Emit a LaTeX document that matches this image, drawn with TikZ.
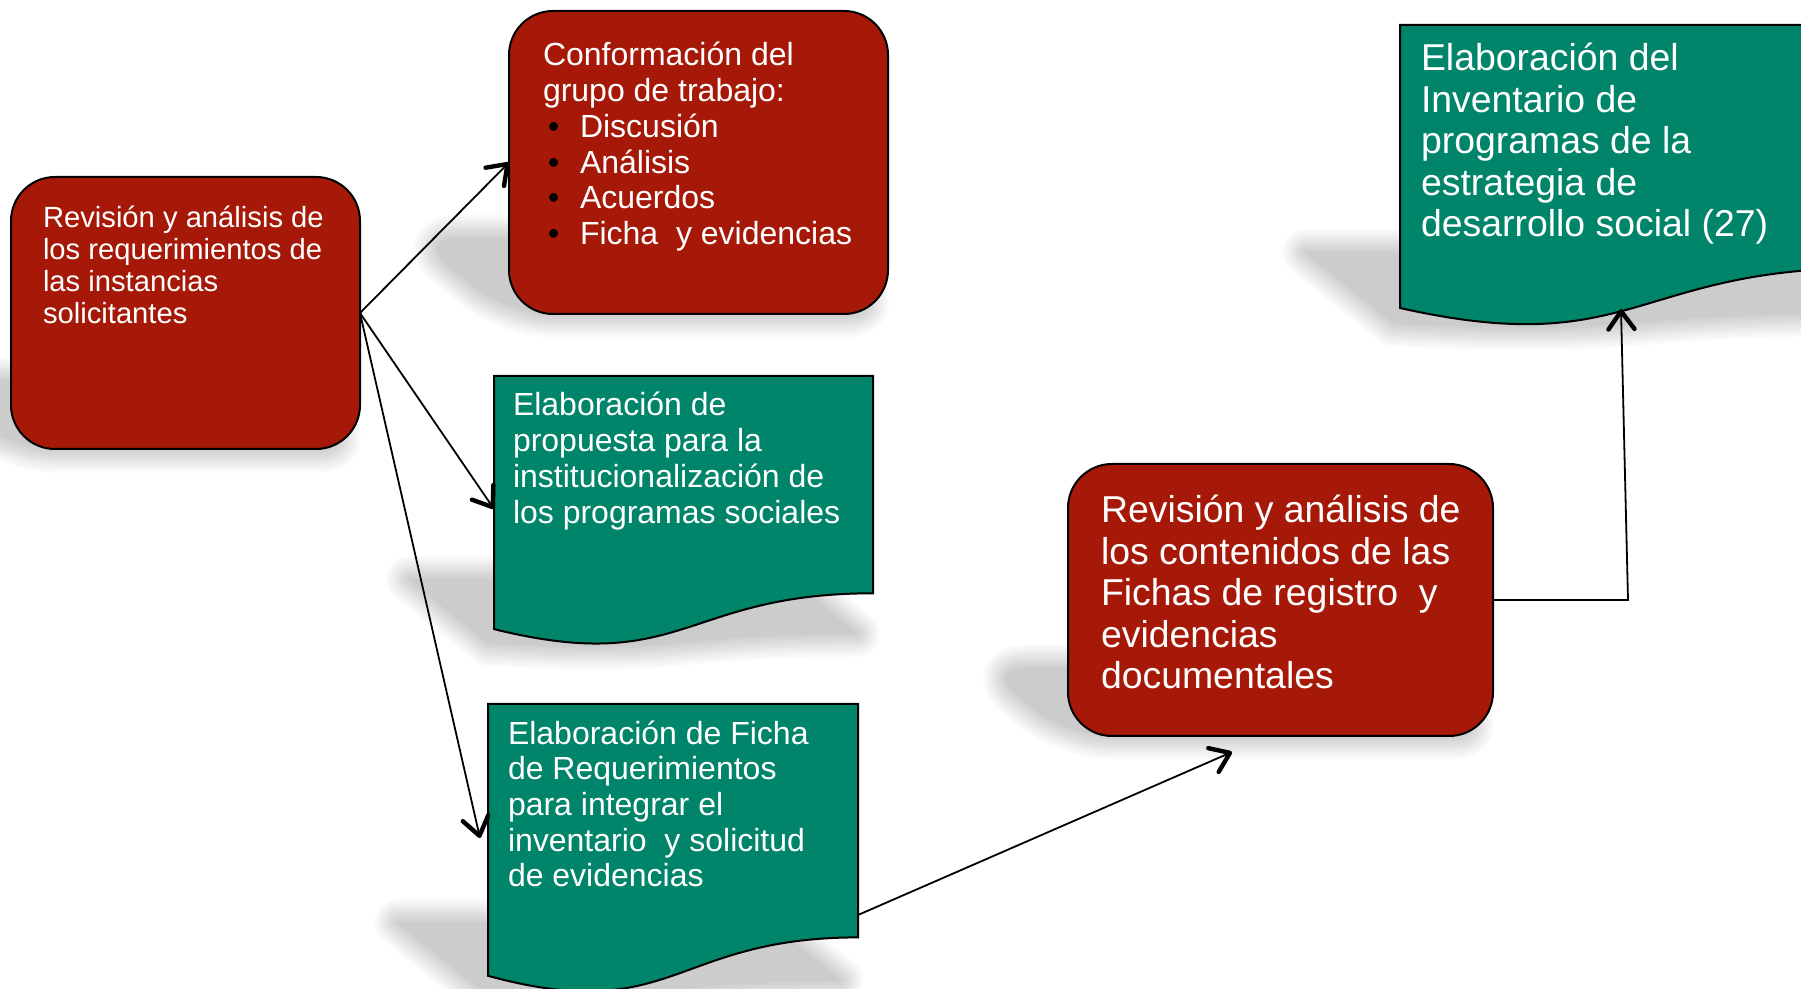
\documentclass[tikz,border=0pt]{standalone}
\usepackage{fontspec}
\setmainfont{Liberation Sans}
\usetikzlibrary{arrows.meta,calc}
\definecolor{boxred}{RGB}{166,25,8}
\definecolor{boxgreen}{RGB}{0,133,106}
\tikzset{
  rbox/.style={draw=black, line width=1pt, fill=boxred, rounded corners=22pt, inner sep=0pt, outer sep=0pt},
  docbox/.style={draw=black, line width=1pt, fill=boxgreen},
  txt/.style={text=white, align=left, anchor=north west, inner sep=0pt, outer sep=0pt},
  smalltxt/.style={txt, font=\fontsize{14.6pt}{16pt}\selectfont},
  midtxt/.style={txt, font=\fontsize{16pt}{17.85pt}\selectfont},
  bigtxt/.style={txt, font=\fontsize{18.7pt}{20.75pt}\selectfont},
  conn/.style={draw=black, line width=0.9pt, -{Straight Barb[length=9pt,width=13pt,line width=2.2pt,round]}},
}
\newcommand\bulitem{\hspace*{2.5pt}\makebox[16pt][l]{\textcolor{black}{•}}}
\newcommand\softshadow[2]{%
  \pgfmathsetmacro\shYb{-0.5*#1}%
  \pgfmathsetmacro\shTx{0.31*\shYb}%
  \pgfmathsetmacro\shTy{0.75*\shYb}%
  \begin{scope}[cm={1,0,-0.31,0.25,(\shTx pt,\shTy pt)}]
    \foreach \k in {0,...,9}{%
      \pgfmathsetmacro\shW{(9-\k)*2.6}%
      \pgfmathsetmacro\shG{2+\k*2}%
      \path[fill=black!\shG, draw=black!\shG, line width=\shW pt, line join=round] #2;
    }
  \end{scope}}
\begin{document}
\begin{tikzpicture}[x=0.5pt,y=-0.5pt]
\useasboundingbox (0,0) rectangle (1801,989);
\clip (0,0) rectangle (1801,989);
% shadows
\softshadow{449}{[rounded corners=22pt] (11,177) rectangle (360,449)}
\softshadow{314}{[rounded corners=22pt] (509,11) rectangle (888,314)}
\softshadow{736}{[rounded corners=22pt] (1068,464) rectangle (1493,736)}
\softshadow{647}{(494,376) -- (873,376) -- (873,593.3) .. controls (683.5,593.3) and (683.5,676.1) .. (494,629.1) -- cycle}
\softshadow{995}{(488,704) -- (858,704) -- (858,937.4) .. controls (673,937.4) and (673,1026.3) .. (488,975.8) -- cycle}
\softshadow{328}{(1400,25) -- (1868,25) -- (1868,268) .. controls (1634,268) and (1634,360.6) .. (1400,308) -- cycle}
% boxes
\node[rbox, minimum width=174.5pt, minimum height=136pt] (A) at (185.5,313) {};
\node[rbox, minimum width=189.5pt, minimum height=151.5pt] (B) at (698.5,162.5) {};
\node[rbox, minimum width=212.5pt, minimum height=136pt] (E) at (1280.5,600) {};
\path[docbox] (494,376) -- (873,376) -- (873,593.3) .. controls (683.5,593.3) and (683.5,676.1) .. (494,629.1) -- cycle;
\path[docbox] (488,704) -- (858,704) -- (858,937.4) .. controls (673,937.4) and (673,1026.3) .. (488,975.8) -- cycle;
\path[docbox] (1400,25) -- (1868,25) -- (1868,268) .. controls (1634,268) and (1634,360.6) .. (1400,308) -- cycle;
\coordinate (CL) at (494,509);
\coordinate (DL) at (480,838);
\coordinate (DR) at (858,915);
\coordinate (EB) at (1232,752);
\coordinate (EK) at (1628,600);
\coordinate (FB) at (1621,309);
% texts
\node[smalltxt] (At) at (43,198.8) {\rule{0pt}{1em}Revisión y análisis de\\los requerimientos de\\las instancias\\solicitantes};
\node[midtxt] (Bt) at (543,34) {\rule{0pt}{1em}Conformación del\\grupo de trabajo:\\\bulitem Discusión\\\bulitem Análisis\\\bulitem Acuerdos\\\bulitem Ficha\ \ y evidencias};
\node[midtxt] (Ct) at (513,384) {\rule{0pt}{1em}Elaboración de\\propuesta para la\\institucionalización de\\los programas sociales};
\node[midtxt] (Dt) at (508,712) {\rule{0pt}{1em}Elaboración de Ficha\\de Requerimientos\\para integrar el\\inventario\ \ y solicitud\\de evidencias};
\node[bigtxt] (Et) at (1101,485.6) {\rule{0pt}{1em}Revisión y análisis de\\los contenidos de las\\Fichas de registro\ \ y\\evidencias\\documentales};
\node[bigtxt] (Ft) at (1421,33.6) {\rule{0pt}{1em}Elaboración del\\Inventario de\\programas de la\\estrategia de\\desarrollo social (27)};
% connectors
\draw[conn] (A.east) -- (B.west);
\draw[conn] (A.east) -- (CL);
\draw[conn] (A.east) -- (DL);
\draw[conn] (DR) -- (EB);
\draw[conn] (E.east) -- (EK) -- (FB);
\end{tikzpicture}
\end{document}
